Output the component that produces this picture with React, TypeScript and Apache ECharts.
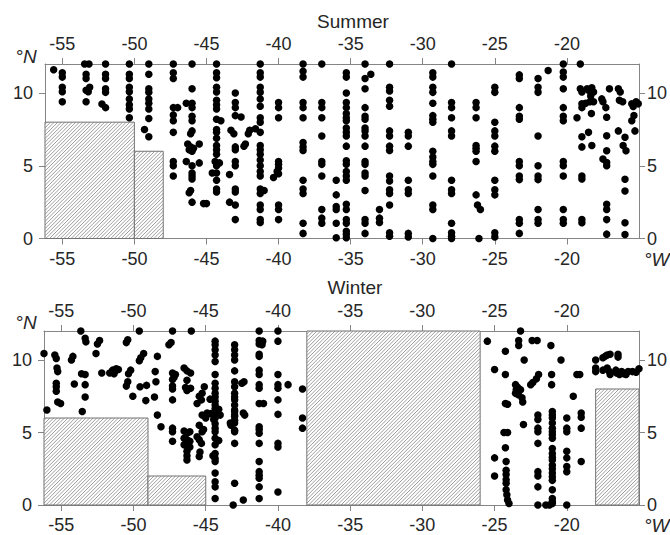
import React, { useEffect, useRef } from "react";
import * as echarts from "echarts";

const xTicks = [-55, -50, -45, -40, -35, -30, -25, -20];
const yTicks = [0, 5, 10];
const lonMin = -56.2;
const lonMax = -15;
const latMin = 0;
const latMax = 12;

// land masks: [lonFrom, lonTo, latFrom, latTo]
const summerLand: number[][] = [
  [-56.2, -50, 0, 8],
  [-50, -48, 0, 6],
];
const winterLand: number[][] = [
  [-56.2, -49, 0, 6],
  [-49, -45, 0, 2],
  [-38, -26, 0, 12],
  [-18, -15, 0, 8],
];

// station columns: [lon, lats]
const summerCols: [number, number[]][] = [
  [-55.0, [11.4, 11.1, 10.4, 10.1, 9.4]],
  [-53.35, [11.3, 11.0, 10.2, 9.4]],
  [-52.0, [12.0, 11.3, 11.0, 10.3, 10.05, 9.0]],
  [-50.35, [12.0, 11.3, 11.0, 10.4, 10.1, 9.6, 9.2, 8.9, 8.3]],
  [-49.0, [12.0, 11.3, 10.3, 10.05, 9.6, 9.3, 8.9, 8.25, 7.0]],
  [-47.3, [12.0, 11.4, 11.0, 9.0, 8.5, 8.1, 7.3, 5.3, 5.0, 4.3]],
  [-46.0, [12.0, 10.3, 9.3, 9.0, 8.4, 8.1, 7.4, 6.0, 5.0, 4.5, 4.3, 4.1, 2.5]],
  [-44.3, [12.0, 11.4, 11.05, 10.4, 10.07, 9.5, 9.2, 8.9, 8.2, 7.5, 7.3, 6.9, 6.4, 6.1, 5.8, 5.0, 4.5, 4.0, 3.4, 3.2]],
  [-43.0, [10.0, 9.35, 9.0, 8.45, 6.3, 6.1, 5.3, 5.0, 3.4, 3.2, 2.3, 1.3]],
  [-41.27, [12.0, 11.4, 11.1, 10.4, 10.05, 9.6, 9.1, 8.3, 8.0, 7.3, 6.4, 6.1, 5.8, 5.4, 5.0, 4.6, 4.3, 3.4, 3.1, 2.3, 2.0, 1.3, 1.1]],
  [-40.0, [9.35, 9.0, 8.3, 5.3, 5.1, 4.85, 4.45, 2.3, 2.0, 1.3]],
  [-38.3, [12.0, 11.5, 11.1, 9.35, 9.0, 8.3, 6.6, 6.3, 6.05, 4.0, 3.4, 3.1, 1.05, 0.35]],
  [-37.0, [12.0, 9.35, 9.0, 8.3, 7.05, 5.3, 5.1, 4.3, 2.0, 1.4, 1.05]],
  [-36.0, [4.0, 3.0, 2.2, 2.0, 1.05, 0.05]],
  [-35.3, [11.4, 11.1, 10.0, 9.35, 9.0, 8.6, 8.3, 8.1, 7.6, 7.3, 7.05, 6.35, 5.35, 5.1, 4.6, 4.3, 4.0, 2.35, 2.0, 1.3, 1.05, 0.5, 0.3, 0.05]],
  [-34.0, [12.0, 11.0, 10.3, 9.0, 8.4, 8.2, 7.6, 7.4, 7.05, 6.35, 5.3, 5.1, 4.5, 4.3, 3.3, 1.3, 1.05, 0.35]],
  [-33.0, [2.0, 1.4, 1.1]],
  [-32.3, [12.0, 10.4, 10.15, 9.5, 9.1, 7.4, 7.05, 6.35, 6.05, 4.3, 3.95, 3.35, 3.1, 2.3, 0.4, 0.15]],
  [-31.0, [7.3, 7.05, 6.35, 4.0, 3.35, 3.1, 0.35, 0.1]],
  [-29.3, [11.4, 11.1, 10.4, 10.05, 9.3, 8.45, 8.2, 8.0, 6.0, 5.6, 5.3, 5.1, 4.3, 2.3, 2.0, 0.0]],
  [-28.0, [12.0, 9.35, 9.0, 8.3, 7.4, 7.05, 4.0, 3.35, 3.1, 1.05, 0.4, 0.15, 0.0]],
  [-26.3, [9.35, 9.0, 8.3, 6.4, 6.2, 6.0, 5.3, 3.0]],
  [-25.0, [10.4, 10.05, 8.0, 7.4, 7.05, 6.35, 6.0, 4.0, 3.35, 3.0, 0.4, 0.1]],
  [-23.3, [11.25, 11.0, 9.0, 8.4, 8.2, 5.3, 5.0, 4.3, 4.05, 1.3, 1.05, 0.35]],
  [-22.0, [11.0, 10.4, 10.05, 7.05, 5.0, 4.3, 4.05, 2.0, 1.3, 1.05]],
  [-20.25, [12.0, 11.45, 11.1, 10.3, 9.0, 8.4, 8.1, 5.3, 5.0, 4.3, 2.0, 1.3, 1.05]],
  [-18.96, [10.07, 9.26, 9.0, 7.0, 6.3, 4.3, 4.1, 1.3, 1.08]],
  [-17.24, [8.34, 7.07, 6.04, 5.23, 5.0, 2.35, 2.0, 1.3, 0.3]],
  [-15.97, [6.96, 4.08, 3.27, 1.08, 0.28]],
];

const summerExtra: [number, number][] = [
  [-55.6, 11.6], [-53.45, 12.0], [-53.15, 12.0], [-53.1, 10.4], [-53.2, 10.1], [-52.25, 9.25], [-49.3, 7.5], [-47.0, 9.0],
  [-46.4, 9.3], [-46.1, 7.2], [-46.3, 6.5], [-46.1, 6.3], [-46.2, 6.1], [-45.9, 6.2], [-45.5, 6.5], [-46.4, 5.3], [-45.5, 5.2],
  [-46.1, 3.3], [-46.2, 3.15], [-45.2, 2.4], [-45.0, 2.4],
  [-44.0, 8.1], [-44.4, 5.3], [-44.1, 5.2], [-44.6, 4.5],
  [-43.3, 7.45], [-43.1, 7.2], [-43.4, 4.4], [-43.4, 2.5], [-42.6, 8.35],
  [-42.4, 6.35], [-42.3, 6.5], [-42.1, 7.2], [-42.0, 7.45], [-41.6, 7.55], [-41.0, 3.3],
  [-40.1, 4.6], [-40.35, 4.2],
  [-33.6, 11.3],
  [-26.2, 2.3], [-26.0, 2.0], [-26.1, 0.0],
  [-21.3, 11.55],
  [-19.07, 12.0], [-19.3, 8.3], [-19.07, 10.3],
  [-18.5, 10.2], [-18.27, 10.37], [-18.15, 10.07], [-18.4, 9.4], [-18.15, 9.4], [-18.3, 8.6], [-17.58, 9.6], [-17.5, 9.4],
  [-17.3, 9.0], [-17.05, 10.3], [-16.43, 10.3], [-16.3, 10.07], [-16.36, 9.5], [-16.13, 9.4], [-15.5, 9.26], [-15.4, 9.08],
  [-15.2, 9.4], [-15.05, 9.26], [-18.6, 10.3], [-18.35, 9.8], [-18.7, 9.3],
  [-18.5, 7.3], [-18.27, 6.4], [-17.5, 5.46], [-16.43, 7.4], [-16.1, 6.4], [-15.9, 6.04], [-15.5, 8.1], [-15.35, 8.46], [-15.28, 7.4],
];

const winterCols: [number, number[]][] = [
  [-47.3, [12.0, 9.1, 8.65, 8.2, 8.0, 7.25, 5.3, 5.05, 4.4]],
  [-46.3, [9.25, 8.6, 7.9, 4.95, 4.5, 4.05, 3.7, 3.4, 3.1]],
  [-44.35, [11.3, 11.05, 10.7, 10.35, 9.9, 9.0, 8.4, 8.05, 7.7, 7.45, 7.15, 6.9, 6.65, 6.45, 6.3, 6.0, 5.6, 5.3, 5.05, 4.6, 4.15, 3.55, 3.2, 3.0, 2.2, 1.6, 1.25, 0.45]],
  [-43.0, [11.05, 10.7, 10.35, 10.0, 9.25, 8.5, 8.15, 7.7, 7.45, 7.25, 6.9, 6.55, 6.45, 6.2, 6.1, 5.85, 5.65, 5.15, 5.05, 4.25, 1.5]],
  [-41.3, [12.0, 11.35, 11.1, 10.4, 10.25, 9.3, 9.0, 8.3, 8.05, 7.0, 5.4, 5.2, 4.95, 4.25, 3.0, 2.3, 2.05, 1.85, 1.25, 0.45]],
  [-40.0, [12.0, 11.3, 9.0, 8.3, 8.05, 7.25, 6.25, 4.25, 4.0, 0.9]],
  [-24.2, [3.0, 2.4, 2.1, 1.75, 1.5, 1.05]],
  [-22.0, [6.2, 5.9, 5.3, 5.05, 4.25, 2.3, 2.0, 1.25, 0.0]],
  [-21.0, [6.45, 6.2, 6.0, 5.65, 5.3, 5.05, 4.85, 4.6, 3.9, 3.55, 3.3, 3.1, 2.75, 2.5, 2.2, 1.95, 1.7, 1.05, 0.45, 0.25, 0.1]],
  [-20.0, [6.0, 5.3, 5.05, 3.7, 3.25, 2.65, 2.3, 0.0]],
  [-19.0, [6.35, 6.05, 5.3, 3.0]],
];

const winterExtra: [number, number][] = [
  [-56.2, 10.45], [-56.0, 6.55],
  [-55.45, 10.35], [-55.35, 10.1], [-55.3, 9.45], [-55.25, 9.2], [-55.35, 8.4], [-55.35, 8.15], [-55.35, 7.85], [-55.25, 7.1], [-55.05, 7.0],
  [-54.2, 10.25], [-54.3, 10.0], [-54.1, 8.35],
  [-53.65, 12.0], [-53.35, 11.5], [-53.3, 11.25], [-53.6, 9.05], [-53.35, 9.0], [-53.35, 8.3], [-53.35, 7.45], [-53.55, 6.45],
  [-52.35, 11.35], [-52.5, 11.1], [-52.6, 10.45], [-52.2, 9.1],
  [-51.65, 9.1], [-51.45, 9.3], [-51.35, 9.05], [-51.2, 9.4], [-51.05, 9.35], [-51.3, 9.2],
  [-50.4, 11.4], [-50.5, 11.2], [-50.2, 9.3], [-50.35, 9.05], [-50.4, 8.5], [-50.5, 8.2], [-50.05, 7.5],
  [-49.6, 12.0], [-49.5, 10.15], [-49.3, 10.45], [-49.6, 9.95], [-49.55, 8.15], [-49.1, 8.25], [-49.15, 7.2],
  [-48.35, 10.25], [-48.5, 9.2], [-48.45, 8.5], [-48.55, 7.45], [-48.35, 6.2], [-48.1, 5.4],
  [-46.0, 12.0], [-47.4, 11.2], [-47.55, 11.05], [-47.1, 9.0], [-47.2, 8.8],
  [-46.5, 9.45], [-46.05, 9.1], [-46.4, 8.1], [-46.05, 8.05],
  [-46.5, 5.1], [-46.1, 5.05], [-46.5, 4.6], [-46.1, 4.4], [-46.5, 4.15], [-46.1, 4.0],
  [-45.45, 7.5], [-45.25, 7.7], [-45.3, 7.25], [-45.6, 7.0], [-45.1, 8.15], [-45.25, 6.2], [-44.9, 6.35], [-45.0, 6.0],
  [-45.45, 5.5], [-45.15, 5.2], [-45.25, 5.05], [-45.45, 4.5], [-45.3, 4.25], [-45.4, 3.65], [-45.45, 3.35], [-45.6, 4.7],
  [-44.7, 7.3], [-44.1, 6.6], [-44.65, 6.3], [-44.0, 6.2], [-44.45, 5.9], [-44.1, 4.45], [-44.5, 3.4],
  [-43.3, 5.65], [-43.25, 5.5], [-43.1, 0.0], [-42.4, 0.35], [-42.5, 8.4], [-42.35, 8.5], [-42.4, 6.35], [-42.3, 6.2],
  [-41.0, 7.0], [-41.05, 11.3], [-41.1, 11.05],
  [-39.3, 8.3], [-38.3, 8.0], [-38.3, 6.0], [-38.3, 5.3],
  [-25.5, 11.3], [-23.2, 12.0], [-23.33, 11.35], [-23.33, 11.0], [-22.4, 11.35], [-22.05, 11.35], [-21.1, 11.0],
  [-24.25, 10.6], [-22.95, 10.0], [-20.4, 10.0], [-25.0, 9.35], [-24.25, 9.0], [-21.95, 9.0], [-22.1, 8.7],
  [-21.05, 9.0], [-21.05, 8.3], [-19.3, 9.0], [-19.1, 9.0], [-22.5, 8.3], [-22.35, 8.45],
  [-23.55, 8.3], [-23.45, 8.15], [-23.35, 8.05], [-23.2, 7.95], [-23.5, 7.95], [-23.55, 7.7], [-23.35, 7.6], [-23.1, 7.4],
  [-23.05, 7.1], [-24.25, 7.0], [-24.1, 6.95], [-19.55, 7.5], [-23.0, 5.55], [-24.35, 5.0], [-24.1, 5.0], [-24.25, 3.95],
  [-25.0, 3.25], [-25.0, 2.0], [-24.15, 0.7], [-24.1, 0.35], [-24.0, 0.1], [-21.2, 0.0], [-21.45, 0.0],
  [-18.0, 10.0], [-17.5, 10.15], [-17.35, 10.25], [-17.2, 10.35], [-17.0, 10.4], [-16.45, 10.4], [-16.45, 10.2],
  [-18.0, 9.45], [-18.0, 9.2], [-17.5, 9.3], [-17.2, 9.45], [-17.05, 9.2], [-17.0, 9.0], [-16.55, 9.1], [-16.35, 9.0],
  [-16.2, 9.2], [-16.05, 9.05], [-15.9, 9.0], [-15.75, 9.2], [-15.45, 9.2], [-15.2, 9.15], [-15.0, 9.4], [-16.6, 9.3],
];

const flatten = (cols: [number, number[]][], extra: [number, number][]) => {
  const out: [number, number][] = [];
  cols.forEach(([lon, lats]) => lats.forEach((lat) => out.push([lon, lat])));
  extra.forEach((p) => out.push(p));
  return out;
};

const FONT = "'Liberation Sans', Arial, Helvetica, sans-serif";
const AXIS_COLOR = "#858585";
const TEXT_COLOR = "#262626";

const renderLand = (_params: any, api: any) => {
  const x0 = api.value(0);
  const x1 = api.value(1);
  const y0 = api.value(2);
  const y1 = api.value(3);
  const a = api.coord([x0, y1]);
  const b = api.coord([x1, y0]);
  const left = a[0];
  const top = a[1];
  const right = b[0];
  const bottom = b[1];
  const children: any[] = [
    {
      type: "rect",
      shape: { x: left, y: top, width: right - left, height: bottom - top },
      style: { fill: "#ffffff", stroke: "none" },
    },
  ];
  const step = 3.6;
  const start = Math.ceil((left + top) / step) * step;
  for (let c = start; c < right + bottom; c += step) {
    const xa = Math.max(left, c - bottom);
    const xb = Math.min(right, c - top);
    if (xb > xa) {
      children.push({
        type: "line",
        shape: { x1: xa, y1: c - xa, x2: xb, y2: c - xb },
        style: { stroke: "#8c8c8c", lineWidth: 0.85 },
      });
    }
  }
  children.push({
    type: "rect",
    shape: { x: left, y: top, width: right - left, height: bottom - top },
    style: { fill: "none", stroke: "#737373", lineWidth: 1 },
  });
  return { type: "group", children };
};

const xAxisBase = (gridIndex: number, position: "top" | "bottom") => ({
  type: "value",
  gridIndex,
  position,
  min: lonMin,
  max: lonMax,
  axisLine: { show: true, onZero: false, lineStyle: { color: AXIS_COLOR, width: 1 } },
  axisTick: { show: true, length: 6, customValues: xTicks, lineStyle: { color: AXIS_COLOR } },
  axisLabel: { show: true, customValues: xTicks, margin: 11, fontSize: 18, fontFamily: FONT, color: TEXT_COLOR },
  splitLine: { show: false },
});

const yAxisBase = (gridIndex: number, position: "left" | "right") => ({
  type: "value",
  gridIndex,
  position,
  min: latMin,
  max: latMax,
  axisLine: { show: true, onZero: false, lineStyle: { color: AXIS_COLOR, width: 1 } },
  axisTick: { show: true, length: 6, customValues: yTicks, lineStyle: { color: AXIS_COLOR } },
  axisLabel: {
    show: true,
    customValues: yTicks,
    margin: position === "left" ? 12 : 8,
    fontSize: 18,
    fontFamily: FONT,
    color: TEXT_COLOR,
  },
  splitLine: { show: false },
});

export default function App() {
  const ref = useRef<HTMLDivElement>(null);
  useEffect(() => {
    document.body.style.margin = "0";
    if (!ref.current) return;
    const chart = echarts.init(ref.current, undefined, { renderer: "svg" });
    const summer = flatten(summerCols, summerExtra);
    const winter = flatten(winterCols, winterExtra);
    const textStyle = (text: string, x: number, y: number, align: string, italic = false) => ({
      type: "text",
      x,
      y,
      style: {
        text,
        fill: TEXT_COLOR,
        font: `${italic ? "italic " : ""}19px ${FONT}`,
        textAlign: align,
        textVerticalAlign: "middle",
      },
    });
    const scatterBase = {
      type: "scatter",
      symbol: "circle",
      symbolSize: 7.5,
      itemStyle: { color: "#000000", opacity: 1 },
      clip: false,
      z: 3,
      silent: true,
    };
    chart.setOption({
      animation: false,
      backgroundColor: "#ffffff",
      grid: [
        { left: 45, right: 28, top: 64, height: 174.5, containLabel: false },
        { left: 44, right: 28, top: 331, height: 174, containLabel: false },
      ],
      xAxis: [xAxisBase(0, "bottom"), xAxisBase(0, "top"), xAxisBase(1, "bottom"), xAxisBase(1, "top")],
      yAxis: [yAxisBase(0, "left"), yAxisBase(0, "right"), yAxisBase(1, "left"), yAxisBase(1, "right")],
      graphic: [
        textStyle("Summer", 353, 21.5, "center"),
        textStyle("Winter", 355, 287, "center"),
        textStyle("°N", 26, 56, "center", true),
        textStyle("°N", 26, 322, "center", true),
        textStyle("°W", 644, 259, "left", true),
        textStyle("°W", 644, 525, "left", true),
      ],
      series: [
        {
          type: "custom",
          xAxisIndex: 0,
          yAxisIndex: 0,
          renderItem: renderLand,
          data: summerLand,
          encode: { x: [0, 1], y: [2, 3] },
          clip: false,
          z: 1,
          silent: true,
        },
        { ...scatterBase, xAxisIndex: 0, yAxisIndex: 0, data: summer },
        {
          type: "custom",
          xAxisIndex: 2,
          yAxisIndex: 2,
          renderItem: renderLand,
          data: winterLand,
          encode: { x: [0, 1], y: [2, 3] },
          clip: false,
          z: 1,
          silent: true,
        },
        { ...scatterBase, xAxisIndex: 2, yAxisIndex: 2, data: winter },
      ],
    });
    return () => chart.dispose();
  }, []);
  return (
    <div
      ref={ref}
      style={{ position: "absolute", left: 0, top: 0, width: 670, height: 535 }}
    />
  );
}
